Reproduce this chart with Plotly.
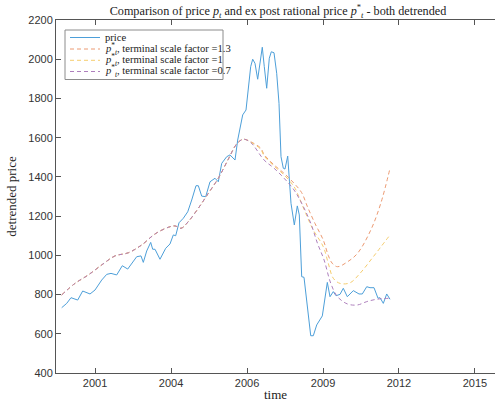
import pandas as pd
import plotly.graph_objects as go

# time in decimal years
price_t = [2000.205, 2000.386, 2000.540, 2000.782, 2000.962, 2001.225, 2001.405, 2001.647, 2001.827, 2001.982,
           2002.187, 2002.389, 2002.584, 2002.908, 2003.063, 2003.146, 2003.268, 2003.412, 2003.484, 2003.567,
           2003.747, 2003.953, 2004.108, 2004.227, 2004.313, 2004.432, 2004.587, 2004.746, 2004.890, 2005.045,
           2005.128, 2005.250, 2005.394, 2005.549, 2005.729, 2005.848, 2005.971, 2006.151, 2006.270, 2006.450,
           2006.547, 2006.727, 2006.846, 2006.929, 2007.015, 2007.087, 2007.170, 2007.267, 2007.350, 2007.433,
           2007.505, 2007.592, 2007.686, 2007.758, 2007.855, 2007.952, 2008.035, 2008.107, 2008.190, 2008.251,
           2008.349, 2008.406, 2008.468, 2008.587, 2008.695, 2008.767, 2008.853, 2008.936, 2009.055, 2009.178,
           2009.271, 2009.394, 2009.596, 2009.776, 2009.873, 2009.992, 2010.089, 2010.233, 2010.352, 2010.496,
           2010.713, 2010.918, 2011.037, 2011.196, 2011.314, 2011.458, 2011.603, 2011.675, 2011.794, 2011.916,
           2012.035]
price_v = [733, 755, 784, 772, 818, 803, 823, 874, 903, 908,
           900, 947, 930, 993, 997, 964, 1022, 1066, 1031, 1031,
           980, 1036, 1058, 1104, 1100, 1166, 1189, 1222, 1282, 1355,
           1355, 1302, 1299, 1375, 1393, 1375, 1469, 1503, 1512, 1486,
           1588, 1716, 1741, 1852, 1962, 2000, 1979, 1898, 1987, 2061,
           1962, 1852, 2005, 2038, 2033, 1928, 1775, 1503, 1444, 1440,
           1506, 1393, 1265, 1155, 1252, 1206, 891, 888, 755, 590,
           590, 645, 691, 862, 789, 815, 794, 801, 832, 789,
           820, 803, 803, 840, 835, 835, 781, 784, 755, 803,
           776]

# shared part of the ex post rational price (before divergence)
common_t = [2000.205, 2000.685, 2001.164, 2001.647, 2002.126, 2002.605, 2003.088, 2003.567, 2004.046, 2004.288,
            2004.504, 2004.767, 2005.127, 2005.488, 2005.848, 2006.208, 2006.511, 2006.749]
common_v = [798, 857, 900, 951, 997, 1013, 1053, 1109, 1143, 1150,
            1138, 1172, 1240, 1316, 1393, 1490, 1568, 1592]

tail13_t = [2007.018, 2007.379, 2007.498, 2007.858, 2008.219, 2008.579, 2008.850, 2009.060, 2009.330, 2009.630,
            2009.810, 2009.950, 2010.143, 2010.503, 2010.863, 2011.342, 2011.702, 2012.035]
tail13_v = [1579, 1546, 1514, 1461, 1418, 1367, 1320, 1248, 1163, 1078,
            1000, 960, 942, 967, 1010, 1129, 1265, 1444]

tail10_t = [2007.018, 2007.379, 2007.498, 2007.858, 2008.219, 2008.579, 2008.699, 2008.998, 2009.271, 2009.631,
            2009.812, 2009.992, 2010.233, 2010.593, 2010.954, 2011.433, 2012.035]
tail10_v = [1577, 1540, 1507, 1455, 1410, 1350, 1316, 1214, 1129, 1044,
            959, 883, 857, 860, 908, 993, 1104]

tail07_t = [2007.018, 2007.498, 2007.858, 2008.219, 2008.579, 2008.882, 2009.181, 2009.422, 2009.660, 2009.901,
            2010.143, 2010.503, 2010.863, 2011.196, 2011.556, 2012.035]
tail07_v = [1575, 1486, 1444, 1393, 1333, 1257, 1163, 1061, 976, 857,
            789, 752, 747, 764, 776, 781]

tick_days = [731000, 732000, 733000, 734000, 735000, 736000]  # MATLAB datenums
tick_text = ["2001", "2004", "2006", "2009", "2012", "2015"]

y_ticks = [400, 600, 800, 1000, 1200, 1400, 1600, 1800, 2000, 2200]

series_names = ["price",
                "terminal scale factor =1.3",
                "terminal scale factor =1",
                "terminal scale factor =0.7"]
series_colors = ["#4d9fd9", "#ec9a72", "#f5cd6e", "#ae7fbd"]

BASE = pd.Timestamp("2000-01-01")


def to_dates(ts):
    return [BASE + pd.Timedelta(days=(t - 2000.0) * 365.25) for t in ts]


def datenum_to_date(d):
    return BASE + pd.Timedelta(days=d - 730486)


serif = "Liberation Serif"
sans = "Liberation Sans"
PSTAR = "<i>p</i><sup>*</sup><sub><i>t</i></sub>"
DASH = "4px,3px"

labels = [series_names[0]] + [PSTAR + ", " + n for n in series_names[1:]]

fig = go.Figure()
fig.add_trace(go.Scatter(x=to_dates(price_t), y=price_v, mode="lines", name=labels[0],
                         line=dict(color=series_colors[0], width=1.0)))
for lab, col, tt, vv in [(labels[1], series_colors[1], tail13_t, tail13_v),
                         (labels[2], series_colors[2], tail10_t, tail10_v),
                         (labels[3], series_colors[3], tail07_t, tail07_v)]:
    fig.add_trace(go.Scatter(x=to_dates(common_t + tt), y=common_v + vv, mode="lines", name=lab,
                             line=dict(color=col, width=1.0, dash=DASH), line_shape="spline"))

# compact legend (MATLAB style) drawn in paper coordinates
W, H_TOP, H_BOT, L = 439.0, 20.0, 373.0, 56.0


def px_x(p):
    return (p - L) / W


def px_y(p):
    return (H_BOT - p) / (H_BOT - H_TOP)


fig.add_shape(type="rect", xref="paper", yref="paper",
              x0=px_x(65), x1=px_x(223), y0=px_y(79.5), y1=px_y(30),
              line=dict(color="#8c8c8c", width=1), fillcolor="white", layer="above")
row_y = [37.5, 49, 60.3, 71.5]
for i in range(4):
    fig.add_shape(type="line", xref="paper", yref="paper",
                  x0=px_x(70), x1=px_x(100), y0=px_y(row_y[i]), y1=px_y(row_y[i]),
                  line=dict(color=series_colors[i], width=1, dash=None if i == 0 else DASH),
                  layer="above")
    fig.add_annotation(xref="paper", yref="paper", x=px_x(103), y=px_y(row_y[i]),
                       xanchor="left", yanchor="middle", showarrow=False, text=labels[i],
                       font=dict(family=serif, size=10.6, color="#222222"))

x_start = BASE
x_end = BASE + pd.Timedelta(days=15.818 * 365.25)

fig.update_layout(
    width=495, height=402,
    margin=dict(l=56, r=0, t=20, b=29),
    paper_bgcolor="white", plot_bgcolor="white",
    font=dict(family=serif),
    title=dict(text="Comparison of price <i>p</i><sub><i>t</i></sub> and ex post rational price "
                    + PSTAR + " - both detrended",
               x=278 / 495, xanchor="center", xref="container",
               y=1 - 11 / 402, yanchor="middle", yref="container",
               font=dict(family=serif, size=12.2, color="#222222")),
    showlegend=False,
    xaxis=dict(range=[x_start, x_end], type="date",
               tickvals=[datenum_to_date(d) for d in tick_days], ticktext=tick_text,
               ticks="inside", ticklen=5, tickcolor="#555555", tickwidth=1,
               showline=True, linecolor="#555555", linewidth=1, mirror="ticks",
               showgrid=False, zeroline=False,
               tickfont=dict(family=sans, size=11, color="#333333"),
               title=dict(text="time", font=dict(family=serif, size=13, color="#222222"), standoff=1)),
    yaxis=dict(range=[400, 2200], tickvals=y_ticks,
               ticks="inside", ticklen=5, tickcolor="#555555", tickwidth=1,
               showline=True, linecolor="#555555", linewidth=1,
               showgrid=False, zeroline=False,
               tickfont=dict(family=sans, size=11, color="#333333"),
               title=dict(text="detrended price", font=dict(family=serif, size=13, color="#222222"),
                          standoff=8)),
)

fig.write_html("out.html", config={"displayModeBar": False},
               post_script="document.body.style.margin='0';document.body.style.overflow='hidden';")
